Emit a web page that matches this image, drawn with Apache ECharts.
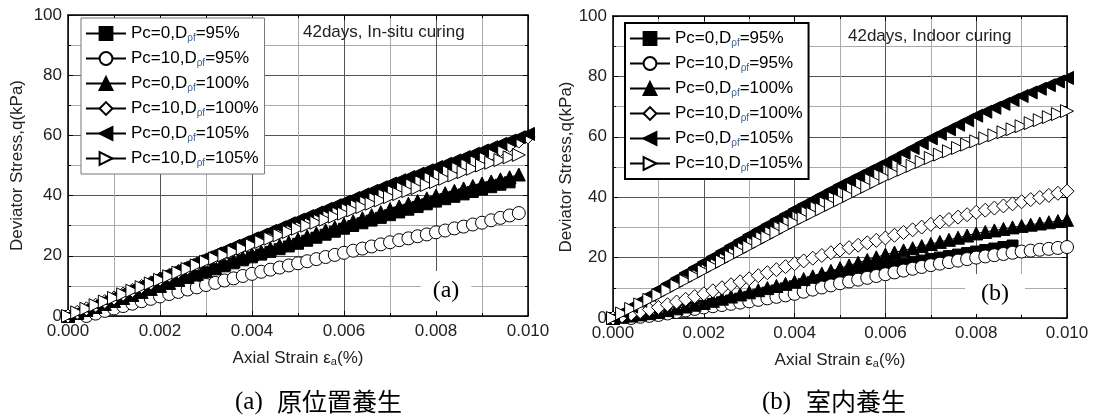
<!DOCTYPE html>
<html>
<head>
<meta charset="utf-8">
<script src="https://cdn.jsdelivr.net/npm/echarts@6/dist/echarts.min.js"></script>
<style>
  html, body { margin: 0; padding: 0; background: #fff; }
  #chart { width: 1094px; height: 418px; }
</style>
</head>
<body>
<div id="chart"></div>
<script>
  // axial strain (%) sampled along the curves
  var STRAIN = [0, 0.0002, 0.0004, 0.0006, 0.0008, 0.001, 0.0012, 0.0014, 0.0016, 0.0018,
    0.002, 0.0022, 0.0024, 0.0026, 0.0028, 0.003, 0.0032, 0.0034, 0.0036, 0.0038,
    0.004, 0.0042, 0.0044, 0.0046, 0.0048, 0.005, 0.0052, 0.0054, 0.0056, 0.0058,
    0.006, 0.0062, 0.0064, 0.0066, 0.0068, 0.007, 0.0072, 0.0074, 0.0076, 0.0078,
    0.008, 0.0082, 0.0084, 0.0086, 0.0088, 0.009, 0.0092, 0.0094, 0.0096, 0.0098, 0.01];

  var NAMES = ['Pc=0,Dρf=95%', 'Pc=10,Dρf=95%', 'Pc=0,Dρf=100%', 'Pc=10,Dρf=100%', 'Pc=0,Dρf=105%', 'Pc=10,Dρf=105%'];

  // (a) 42days, In-situ curing  -- deviator stress q (kPa)
  var A_P0_95 = [0, 0.9, 1.8, 2.7, 3.6, 4.5, 5.5, 6.5, 7.5, 8.5, 9.5, 10.5, 11.5, 12.5, 13.5, 14.5, 15.5, 16.5, 17.5, 18.5, 19.5, 20.4, 21.3, 22.2, 23.1, 24, 25, 26, 27, 28, 29, 29.9, 30.8, 31.7, 32.6, 33.5, 34.4, 35.3, 36.2, 37.1, 38, 38.8, 39.6, 40.4, 41.2, 42, 42.8, 43.6, 44.4, null, null];
  var A_P10_95 = [null, null, 0, 0.8, 1.7, 2.5, 3.3, 4.1, 4.9, 5.7, 6.5, 7.3, 8, 8.8, 9.5, 10.3, 11, 11.8, 12.5, 13.3, 14, 14.7, 15.4, 16.1, 16.8, 17.5, 18.2, 18.9, 19.6, 20.3, 21, 21.7, 22.4, 23.1, 23.8, 24.5, 25.2, 25.8, 26.5, 27.1, 27.8, 28.4, 29.1, 29.7, 30.4, 31, 31.8, 32.6, 33.4, 34.2, null];
  var A_P0_100 = [0, 1, 2, 3, 4, 5, 6, 7, 8, 9, 10, 11, 12, 13, 14, 15, 16.1, 17.2, 18.3, 19.4, 20.5, 21.5, 22.5, 23.5, 24.5, 25.5, 26.5, 27.5, 28.5, 29.5, 30.5, 31.5, 32.5, 33.5, 34.5, 35.5, 36.4, 37.3, 38.2, 39.1, 40, 40.8, 41.6, 42.4, 43.2, 44, 44.7, 45.4, 46.1, 47, null];
  var A_P10_100 = [0, 1.2, 2.4, 3.6, 4.8, 6, 7.3, 8.5, 9.8, 11, 12.3, 13.5, 14.8, 16, 17.3, 18.5, 19.7, 20.9, 22.1, 23.3, 24.5, 25.7, 26.8, 28, 29.1, 30.3, 31.4, 32.6, 33.7, 34.9, 36, 37.1, 38.2, 39.3, 40.4, 41.5, 42.6, 43.7, 44.8, 45.9, 47, 48.1, 49.2, 50.3, 51.4, 52.5, 53.9, 55.3, 56.7, 58.1, 59.5];
  var A_P0_105 = [0, 1.3, 2.6, 3.9, 5.2, 6.5, 7.8, 9.1, 10.4, 11.7, 13, 14.3, 15.6, 16.9, 18.2, 19.5, 20.8, 22, 23.3, 24.5, 25.8, 27, 28.3, 29.5, 30.8, 32, 33.2, 34.4, 35.6, 36.8, 38, 39.2, 40.4, 41.6, 42.8, 44, 45.1, 46.2, 47.3, 48.4, 49.5, 50.6, 51.7, 52.8, 53.9, 55, 56.1, 57.2, 58.3, 59.4, 60.5];
  var A_P10_105 = [0, 1.2, 2.4, 3.6, 4.8, 6, 7.2, 8.4, 9.6, 10.8, 12, 13.2, 14.4, 15.6, 16.8, 18, 19.1, 20.2, 21.3, 22.4, 23.5, 24.6, 25.7, 26.8, 27.9, 29, 30, 31, 32, 33, 34, 35.1, 36.2, 37.3, 38.4, 39.5, 40.5, 41.5, 42.5, 43.5, 44.5, 45.6, 46.7, 47.8, 48.9, 50, 50.9, 51.8, 52.7, 53.5, null];

  // (b) 42days, Indoor curing
  var B_P0_95 = [0, 0.3, 0.6, 0.9, 1.2, 1.5, 2, 2.5, 3, 3.5, 4, 4.6, 5.2, 5.8, 6.4, 7, 7.7, 8.4, 9.1, 9.8, 10.5, 11.2, 11.9, 12.6, 13.3, 14, 14.6, 15.2, 15.8, 16.4, 17, 17.5, 18, 18.5, 19, 19.5, 20, 20.5, 21, 21.5, 22, 22.5, 23, 23.5, 24, null, null, null, null, null, null];
  var B_P10_95 = [null, null, 0, 0.4, 0.7, 1, 1.5, 2, 2.5, 3, 3.5, 3.9, 4.3, 4.7, 5.1, 5.5, 6, 6.5, 7, 7.5, 8, 8.7, 9.4, 10.1, 10.8, 11.5, 12.1, 12.7, 13.3, 13.9, 14.5, 15.1, 15.7, 16.3, 16.9, 17.5, 18, 18.5, 19, 19.5, 20, 20.4, 20.8, 21.2, 21.6, 22, 22.3, 22.6, 22.9, 23.2, 23.5];
  var B_P0_100 = [0, 0.4, 0.8, 1.2, 1.6, 2, 2.6, 3.2, 3.8, 4.4, 5, 5.7, 6.4, 7.1, 7.8, 8.5, 9.2, 9.9, 10.6, 11.3, 12, 12.9, 13.8, 14.7, 15.6, 16.5, 17.4, 18.3, 19.2, 20.1, 21, 21.7, 22.4, 23.1, 23.8, 24.5, 25.2, 25.9, 26.6, 27.3, 28, 28.5, 29, 29.5, 30, 30.5, 30.9, 31.3, 31.7, 32.1, 32.5];
  var B_P10_100 = [0, 0.7, 1.4, 2.1, 2.8, 3.5, 4.4, 5.3, 6.2, 7.1, 8, 9, 10, 11, 12, 13, 14, 15, 16, 17, 18, 18.9, 19.8, 20.7, 21.6, 22.5, 23.3, 24.1, 24.9, 25.7, 26.5, 27.4, 28.3, 29.2, 30.1, 31, 31.8, 32.6, 33.4, 34.2, 35, 35.7, 36.4, 37.1, 37.8, 38.5, 39.2, 39.9, 40.6, 41.3, 42];
  var B_P0_105 = [0, 1.9, 3.8, 5.7, 7.6, 9.5, 11.3, 13.1, 14.9, 16.7, 18.5, 20.3, 22.1, 23.9, 25.7, 27.5, 29.2, 30.9, 32.6, 34.3, 36, 37.6, 39.2, 40.8, 42.4, 44, 45.5, 47, 48.5, 50, 51.5, 53.1, 54.7, 56.3, 57.9, 59.5, 61, 62.5, 64, 65.5, 67, 68.3, 69.6, 70.9, 72.2, 73.5, 74.7, 75.9, 77.1, 78.3, 79.5];
  var B_P10_105 = [0, 1.5, 3, 4.5, 6, 7.5, 9.1, 10.7, 12.3, 13.9, 15.5, 17.1, 18.7, 20.3, 21.9, 23.5, 25.1, 26.7, 28.3, 29.9, 31.5, 33, 34.5, 36, 37.5, 39, 40.5, 42, 43.5, 45, 46.5, 47.8, 49.1, 50.4, 51.7, 53, 54.1, 55.2, 56.3, 57.4, 58.5, 59.5, 60.5, 61.5, 62.5, 63.5, 64.5, 65.5, 66.5, 67.5, 68.5];

  var SANS = '"Liberation Sans", Arial, sans-serif';
  var SERIF = '"Liberation Serif", "Times New Roman", serif';
  var CJK = '"Noto Sans CJK JP", "Noto Sans CJK SC", sans-serif';

  // marker per series: symbol, size, fill
  var MARKS = [
    ['rect', 11, '#000'],
    ['circle', 13, '#fff'],
    ['triangle', 13, '#000'],
    ['diamond', 14, '#fff'],
    ['path://M0,5L10,0L10,10Z', 13, '#000'],
    ['path://M10,5L0,0L0,10Z', 13, '#fff']
  ];

  function makeSeries (panel, values, k) {
    var pts = [];
    for (var i = 0; i < STRAIN.length; i++) {
      if (values[i] != null) pts.push([STRAIN[i], values[i]]);
    }
    return {
      type: 'line',
      name: NAMES[k],
      xAxisIndex: panel * 2,
      yAxisIndex: panel * 2,
      data: pts,
      symbol: MARKS[k][0],
      symbolSize: MARKS[k][1],
      showAllSymbol: true,
      itemStyle: {color: MARKS[k][2], borderColor: '#000', borderWidth: 1},
      lineStyle: {color: '#000', width: 1},
      z: 3 + k
    };
  }

  function legendFmt (n) {
    return '{t|' + n.replace('ρf', '}{s|ρf}{t|') + '}';
  }

  var legendText = {
    fontFamily: SANS, fontSize: 17, color: '#000',
    rich: {
      t: {fontFamily: SANS, fontSize: 17, lineHeight: 18, color: '#000'},
      s: {fontFamily: SANS, fontSize: 10, lineHeight: 18, padding: [9, 0, 0, 0], color: '#3d5f8f'}
    }
  };

  function xAxes (grid, nameGap) {
    return [{
      gridIndex: grid, type: 'value', min: 0, max: 0.01, interval: 0.002, position: 'bottom',
      axisLine: {show: true, onZero: false, lineStyle: {color: '#000', width: 1.5}},
      axisTick: {inside: true, length: 5, lineStyle: {color: '#000'}},
      minorTick: {show: true, splitNumber: 2, length: 3, lineStyle: {color: '#000'}},
      axisLabel: {fontFamily: SANS, fontSize: 17, color: '#222', margin: 7,
        formatter: function (v) { return v.toFixed(3); }},
      splitLine: {show: true, lineStyle: {color: '#555', width: 1}},
      minorSplitLine: {show: true, lineStyle: {color: '#aaa', width: 1}},
      name: '{n|Axial Strain ε}{s|a}{n|(%)}', nameLocation: 'middle', nameGap: nameGap,
      nameTextStyle: {rich: {
        n: {fontFamily: SANS, fontSize: 17, color: '#222', lineHeight: 18},
        s: {fontFamily: SANS, fontSize: 11, color: '#222', lineHeight: 18, padding: [8, 0, 0, 0]}
      }}
    }, {
      gridIndex: grid, type: 'value', min: 0, max: 0.01, interval: 0.002, position: 'top',
      axisLine: {show: true, onZero: false, lineStyle: {color: '#000', width: 1.5}},
      axisTick: {inside: true, length: 5, lineStyle: {color: '#000'}},
      minorTick: {show: true, splitNumber: 2, length: 3, lineStyle: {color: '#000'}},
      axisLabel: {show: false}, splitLine: {show: false}
    }];
  }

  function yAxes (grid, nameGap) {
    return [{
      gridIndex: grid, type: 'value', min: 0, max: 100, interval: 20, position: 'left',
      axisLine: {show: true, onZero: false, lineStyle: {color: '#000', width: 1.5}},
      axisTick: {inside: true, length: 5, lineStyle: {color: '#000'}},
      minorTick: {show: true, splitNumber: 2, length: 3, lineStyle: {color: '#000'}},
      axisLabel: {fontFamily: SANS, fontSize: 17, color: '#222', margin: 6},
      splitLine: {show: true, lineStyle: {color: '#555', width: 1}},
      minorSplitLine: {show: true, lineStyle: {color: '#aaa', width: 1}},
      name: 'Deviator Stress,q(kPa)', nameLocation: 'middle', nameGap: nameGap,
      nameTextStyle: {fontFamily: SANS, fontSize: 17, color: '#222'}
    }, {
      gridIndex: grid, type: 'value', min: 0, max: 100, interval: 20, position: 'right',
      axisLine: {show: true, onZero: false, lineStyle: {color: '#000', width: 1.5}},
      axisTick: {inside: true, length: 5, lineStyle: {color: '#000'}},
      minorTick: {show: true, splitNumber: 2, length: 3, lineStyle: {color: '#000'}},
      axisLabel: {show: false}, splitLine: {show: false}
    }];
  }

  var panelA = [A_P0_95, A_P10_95, A_P0_100, A_P10_100, A_P0_105, A_P10_105];
  var panelB = [B_P0_95, B_P10_95, B_P0_100, B_P10_100, B_P0_105, B_P10_105];
  var series = [];
  panelA.forEach(function (v, k) { series.push(makeSeries(0, v, k)); });
  panelB.forEach(function (v, k) { series.push(makeSeries(1, v, k)); });

  var chart = echarts.init(document.getElementById('chart'));
  chart.setOption({
    animation: false,
    backgroundColor: '#fff',
    grid: [
      {left: 68, top: 15, width: 460, height: 301},
      {left: 613, top: 16, width: 454, height: 302}
    ],
    xAxis: xAxes(0, 33).concat(xAxes(1, 33)),
    yAxis: yAxes(0, 42).concat(yAxes(1, 38)),
    legend: [{
      left: 81, top: 18, orient: 'vertical', itemWidth: 40, itemHeight: 16, itemGap: 6,
      padding: [6, 6, 6, 4], backgroundColor: '#fff', borderColor: '#777', borderWidth: 1,
      textStyle: legendText, formatter: legendFmt, data: NAMES, selectedMode: false
    }, {
      left: 625, top: 23, orient: 'vertical', itemWidth: 40, itemHeight: 16, itemGap: 6,
      padding: [6, 6, 6, 4], backgroundColor: '#fff', borderColor: '#000', borderWidth: 2,
      textStyle: legendText, formatter: legendFmt, data: NAMES, selectedMode: false
    }],
    graphic: [
      {type: 'text', left: 303, top: 24, z: 10,
        style: {text: '42days, In-situ curing', fontFamily: SANS, fontSize: 17, fill: '#222'}},
      {type: 'text', left: 848, top: 28, z: 10,
        style: {text: '42days, Indoor curing', fontFamily: SANS, fontSize: 17, fill: '#222'}},
      {type: 'text', x: 446, y: 291, z: 10,
        style: {text: '(a)', fontFamily: SERIF, fontSize: 24, fill: '#000', align: 'center',
          verticalAlign: 'middle', backgroundColor: '#fff', padding: [8, 12]}},
      {type: 'text', x: 995, y: 294, z: 10,
        style: {text: '(b)', fontFamily: SERIF, fontSize: 24, fill: '#000', align: 'center',
          verticalAlign: 'middle', backgroundColor: '#fff', padding: [8, 16]}},
      {type: 'text', left: 235, top: 390,
        style: {text: '(a)', fontFamily: SERIF, fontSize: 25, fill: '#000'}},
      {type: 'text', left: 277, top: 389,
        style: {text: '原位置養生', fontFamily: CJK, fontSize: 25, fill: '#000'}},
      {type: 'text', left: 762, top: 390,
        style: {text: '(b)', fontFamily: SERIF, fontSize: 25, fill: '#000'}},
      {type: 'text', left: 806, top: 389,
        style: {text: '室内養生', fontFamily: CJK, fontSize: 25, fill: '#000'}}
    ],
    series: series
  });
</script>
</body>
</html>
